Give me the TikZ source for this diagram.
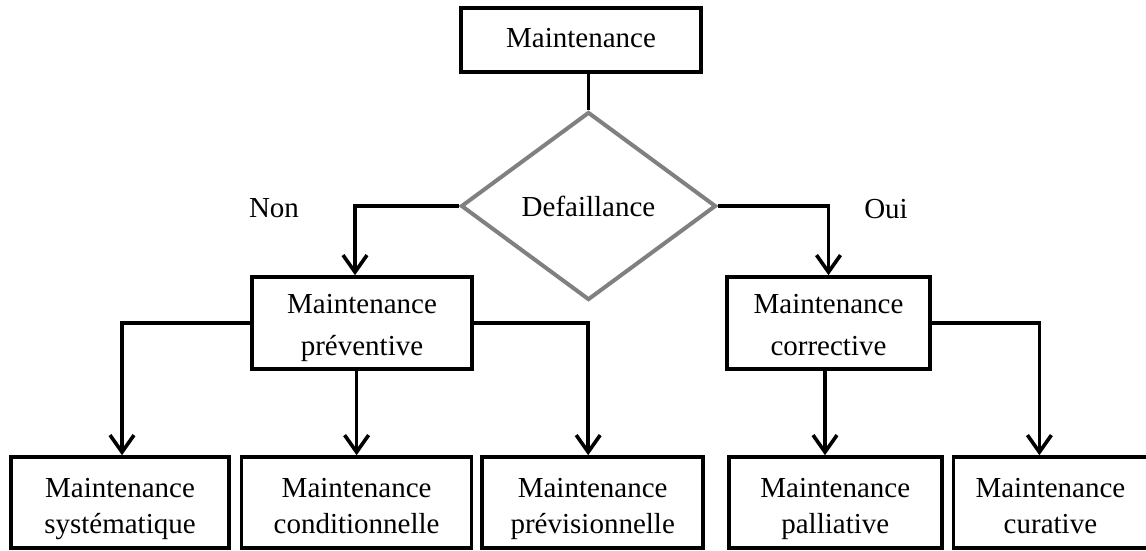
\documentclass[tikz,border=0pt]{standalone}
\usepackage{fontspec}
\setmainfont{Liberation Serif}
\usetikzlibrary{arrows.meta,positioning,shapes.geometric}
\definecolor{diagray}{RGB}{128,128,128}

\begin{document}
\begin{tikzpicture}[x=1pt,y=-1pt,
            mybox/.style={
            rectangle,
            draw=black,
            line width=3.6pt,
            align=center,
            inner sep=0pt,
            minimum height=92pt,
            text height=75pt,
            text depth=11pt,
            font=\fontsize{29}{42}\selectfont},
        leafbox/.style={
            mybox,
            minimum height=91pt,
            text height=72pt,
            text depth=11pt,
            font=\fontsize{29}{36}\selectfont},
        mydiamond/.style={
            diamond,
            draw=diagray,
            line width=4pt,
            inner sep=0pt,
            minimum width=255pt,
            minimum height=188pt,
            font=\fontsize{29}{39}\selectfont},
        mylabel/.style={font=\fontsize{29}{39}\selectfont},
        myline/.style={line width=3.6pt},
        myarrow/.style={myline,-{Straight Barb[length=17pt,width=24pt]}},
        node distance=9pt
        ]
        \useasboundingbox (0,0) rectangle (1146,550);
        \node[mybox,minimum width=240pt,minimum height=64pt,text height=19pt,text depth=5pt] (maint) at (581,40) {Maintenance};
        \node[mydiamond] (defa) at (588.5,206) {Defaillance};
        \node[mybox,minimum width=220pt] (prev) at (362,323) {Maintenance\\préventive};
        \node[mybox,minimum width=203pt] (corr) at (828.5,323) {Maintenance\\corrective};
        \node[mylabel] (non) at (274,208) {Non};
        \node[mylabel] (oui) at (886,209) {Oui};

        % bottom row
        \node[leafbox,minimum width=218pt] (syst) at (120,502.5) {Maintenance\\systématique};
        \node[leafbox,minimum width=230pt,right=of syst] (cond) {Maintenance\\conditionnelle};
        \node[leafbox,minimum width=221pt,right=7pt of cond] (prevs) {Maintenance\\prévisionnelle};
        \node[leafbox,minimum width=213pt,right=22pt of prevs] (pall) {Maintenance\\palliative};
        \node[leafbox,minimum width=194pt,right=8pt of pall] (cura) {Maintenance\\curative};

        \draw[myline] (maint.south -| defa.north) -- (defa.north);
        \draw[myarrow] (defa.west) -| ([xshift=-7pt]prev.north);
        \draw[myarrow] (defa.east) -| (corr.north);

        \foreach \i/\a/\j/\s in {% start node/side/end node/shift
            prev/west/syst/2,
            prev/east/prevs/-4.5,
            corr/east/cura/-11}
            \draw[myarrow] (\i.\a) -| ([xshift=\s pt]\j.north);

        \draw[myarrow] (cond.north |- prev.south) -- (cond.north);
        \draw[myarrow] ([xshift=-3.5pt]corr.south) -- ([xshift=-3.5pt]corr.south |- pall.north);
        \end{tikzpicture}
\end{document}
